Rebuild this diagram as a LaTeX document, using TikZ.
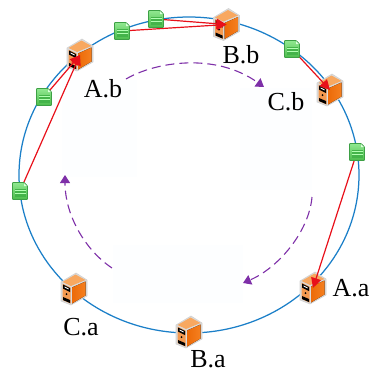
\documentclass[tikz,border=0pt]{standalone}
\usepackage{fontspec}
\setmainfont{Liberation Serif}
\usetikzlibrary{arrows.meta}
\pgfdeclarelayer{ringlayer}\pgfdeclarelayer{srvlayer}\pgfdeclarelayer{doclayer}
\pgfsetlayers{ringlayer,srvlayer,main,doclayer}
\definecolor{ringblue}{HTML}{1B7FC8}
\definecolor{flowpurple}{HTML}{7E2FA8}
\definecolor{sendred}{HTML}{E8101A}
\definecolor{paleblock}{HTML}{FDFEFF}
\definecolor{srvtop}{HTML}{F8A860}
\definecolor{srvfront}{HTML}{F59A50}
\definecolor{srvside}{HTML}{EC6A08}
\definecolor{srvside2}{HTML}{F58020}
\definecolor{doctop}{HTML}{90E890}
\definecolor{docbot}{HTML}{4CBC4C}
\definecolor{docedge}{HTML}{3DA045}
\definecolor{docband}{HTML}{44B44A}
\tikzset{
 ring/.style={draw=ringblue,line width=1.25bp},
 flow/.style={draw=flowpurple,line width=1.1bp,dash pattern=on 9bp off 5bp,-{Triangle[length=8bp,width=10bp,fill=flowpurple]}},
 send/.style={draw=sendred,line width=1.2bp,-{Triangle[length=10bp,width=10bp,fill=sendred]}},
 lab/.style={inner sep=0pt,font=\fontsize{26bp}{26bp}\selectfont,text=black},
 server/.pic={
  \fill[black!14,draw=black!18,line width=.6bp,line join=round] (2,-16)--(-13,-7)--(-13,12)--(-3,16)--(13,7)--(13,-9)--cycle;
  \fill[srvtop] (1.5,-14.5)--(-11.5,-7)--(-3,-3)--(11.5,-9)--cycle;
  \fill[srvfront] (-11.5,-5.5)--(-3.5,-1.5)--(-3.5,14.5)--(-11.5,11)--cycle;
  \fill[left color=srvside,right color=srvside2] (-2,-1.5)--(11.5,-7.5)--(11.5,6.5)--(-2,14.5)--cycle;
  \fill[black] (-11,-4.5)--(-4,-1)--(-4,3)--(-11,-.5)--cycle;
  \fill[white] (-9.5,-2.6)--(-5.5,-.6)--(-5.5,.4)--(-9.5,-1.6)--cycle;
  \fill[black] (-7.5,5) circle (1bp);
  \fill[black] (-11,8)--(-4,11)--(-4,14)--(-11,11)--cycle;
 },
 paper/.pic={
  \fill[top color=doctop,bottom color=docbot,draw=docedge,line width=.9bp,rounded corners=.8bp] (-7.5,-8.5)--(4,-8.5)--(7.5,-5)--(7.5,8.5)--(-7.5,8.5)--cycle;
  \fill[white!85!green] (4,-8)--(7,-5)--(4,-5)--cycle;
  \fill[docband] (-5.5,-2.5) rectangle (5.5,6);
  \fill[white!70!green] (-5.5,-.6) rectangle (5.5,.4);
  \fill[white!70!green] (-5.5,2.4) rectangle (5.5,3.4);
 },
}
\begin{document}
\begin{tikzpicture}[x=1bp,y=-1bp]
\useasboundingbox (0,0) rectangle (370,372);
\begin{pgfonlayer}{ringlayer}
\fill[paleblock] (62,80) rectangle (137,177);
\fill[paleblock] (240,88) rectangle (312,190);
\fill[paleblock] (113,245) rectangle (243,303);
\draw[ring] (189,175) ellipse [x radius=170,y radius=158];
\end{pgfonlayer}
\coordinate (Ab) at (80,55);
\coordinate (Bb) at (226.5,24.5);
\coordinate (Cb) at (330,90);
\coordinate (Aa) at (313,288);
\coordinate (Ba) at (189,332);
\coordinate (Ca) at (74,289);
\begin{pgfonlayer}{srvlayer}
\foreach \s in {Ab,Bb,Cb,Aa,Ba,Ca} \pic at (\s) {server};
\end{pgfonlayer}
\coordinate (d1) at (20,191);
\coordinate (d2) at (44,97);
\coordinate (d3) at (122,31);
\coordinate (d4) at (156,19);
\coordinate (d5) at (292,49);
\coordinate (d6) at (357,152);
\begin{pgfonlayer}{doclayer}
\foreach \d in {d1,d2,d3,d4,d5,d6} \pic at (\d) {paper};
\end{pgfonlayer}
\draw[send] (d1) -- (Ab);
\draw[send] (d2) -- (Ab);
\draw[send] (d3) -- (Bb);
\draw[send] (d4) -- (Bb);
\draw[send] (d5) -- (Cb);
\draw[send] (d6) -- (Aa);
\node[lab] (lAb) at (103,89) {A.b};
\node[lab] (lBb) at (241,55) {B.b};
\node[lab] (lCb) at (286,102) {C.b};
\node[lab] (lAa) at (351,288) {A.a};
\node[lab] (lBa) at (208,359) {B.a};
\node[lab] (lCa) at (81,327) {C.a};
\coordinate (f1s) at (126,79); \coordinate (f1e) at (264,87);
\coordinate (f2s) at (312,197); \coordinate (f2e) at (243,283);
\coordinate (f3s) at (112,268); \coordinate (f3e) at (65,175);
\draw[flow] (f1s) .. controls (155,62) and (215,52) .. (f1e);
\draw[flow] (f2s) .. controls (309,232) and (278,268) .. (f2e);
\draw[flow] (f3s) .. controls (85,250) and (65,215) .. (f3e);
\end{tikzpicture}
\end{document}
